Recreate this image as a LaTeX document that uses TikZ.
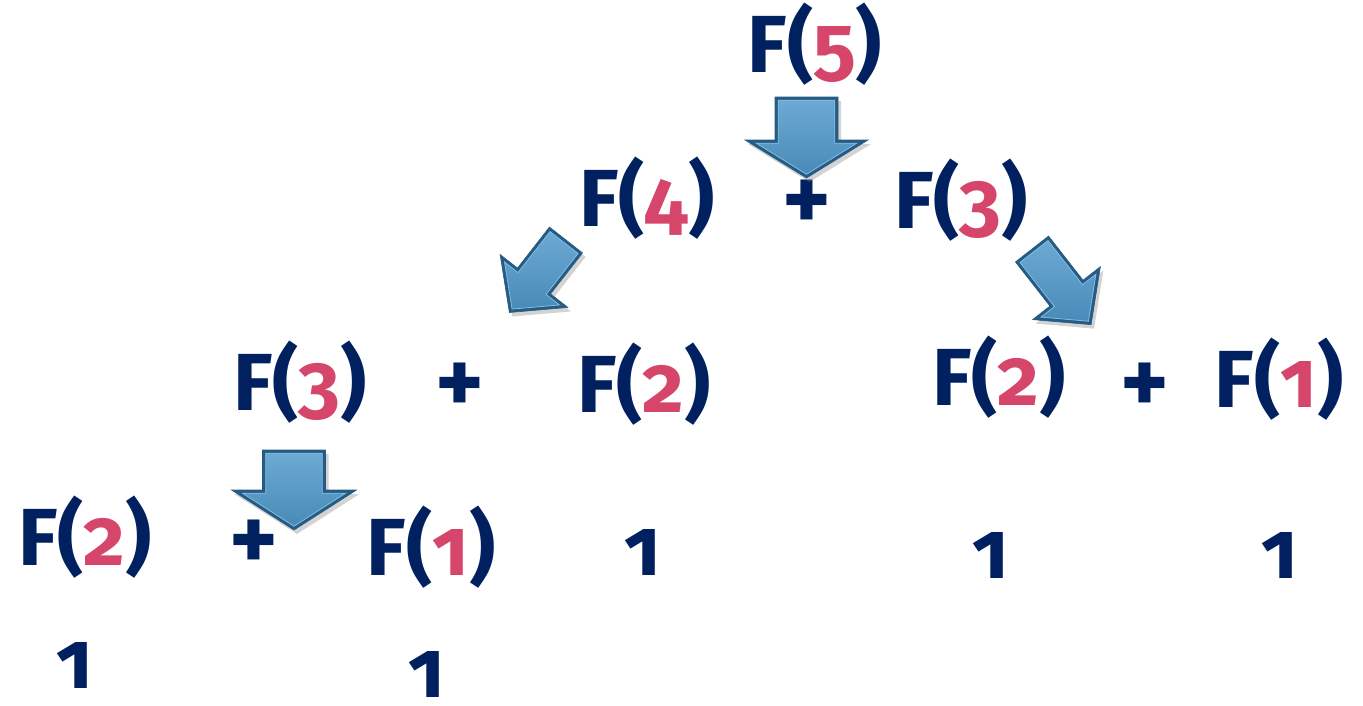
\documentclass[tikz,border=0pt]{standalone}
\usepackage{fontspec}
\setmainfont{Fira Sans}[Numbers=OldStyle]
\usetikzlibrary{shadows}
\definecolor{navy}{RGB}{0,32,96}
\definecolor{numred}{RGB}{213,70,106}
\definecolor{arrowlight}{RGB}{108,170,212}
\definecolor{arrowdark}{RGB}{72,138,184}
\definecolor{arrowedge}{RGB}{38,92,132}
\definecolor{arrowhi}{RGB}{150,200,230}
\tikzset{
  fnode/.style={inner sep=0pt, anchor=base, text=navy, font=\fontsize{81}{86}\selectfont\bfseries},
  plusnode/.style={inner sep=0pt, anchor=center, text=navy, font=\fontsize{92}{96}\selectfont\bfseries},
  arrowouter/.style={fill=arrowedge, draw=arrowedge, line width=0.6pt, line join=miter,
    drop shadow={opacity=0.35, shadow xshift=3pt, shadow yshift=-4pt}},
  arrowinner/.style={top color=arrowlight, bottom color=arrowdark, draw=arrowhi!60!arrowlight,
    line width=0.8pt, line join=miter},
}
\newcommand\Fn[1]{F(\textcolor{numred}{#1})}
% #1 tail centre, #2 rotation, #3 shaft half width, #4 head half width, #5 head length, #6 total length
\newcommand\blockarrow[6]{%
  \pgfmathsetmacro\arrD{3.2}%
  \pgfmathsetmacro\arrR{sqrt((#4)^2+(#5)^2)}%
  \pgfmathsetmacro\arrXs{#3-\arrD}%
  \pgfmathsetmacro\arrYs{#6-#5+\arrD}%
  \pgfmathsetmacro\arrXb{(#4*#5-\arrD*\arrR-#4*\arrD)/#5}%
  \pgfmathsetmacro\arrYp{#6-\arrD*\arrR/#4}%
  \begin{scope}[shift={(#1)}, rotate=#2]
    \path[arrowouter] (-#3,0) -- (#3,0) -- (#3,{#6-#5}) -- (#4,{#6-#5}) -- (0,#6)
      -- (-#4,{#6-#5}) -- (-#3,{#6-#5}) -- cycle;
    \path[arrowinner] (-\arrXs,\arrD) -- (\arrXs,\arrD) -- (\arrXs,\arrYs) -- (\arrXb,\arrYs)
      -- (0,\arrYp) -- (-\arrXb,\arrYs) -- (-\arrXs,\arrYs) -- cycle;
  \end{scope}}
\begin{document}
\begin{tikzpicture}[x=1pt, y=-1pt]
  \useasboundingbox (0,0) rectangle (1363,705);
  % row 1
  \node[fnode] (f5) at (815,72) {\Fn{5}};
  % row 2
  \node[fnode] (f4) at (647,226) {\Fn{4}};
  \node[plusnode] (p1) at (807,205) {+};
  \node[fnode] (f3a) at (961,228) {\Fn{3}};
  % row 3
  \node[fnode] (f3b) at (300,410) {\Fn{3}};
  \node[plusnode] (p2) at (460,388) {+};
  \node[fnode] (f2a) at (644,412) {\Fn{2}};
  \node[fnode] (f2b) at (999,405) {\Fn{2}};
  \node[plusnode] (p3) at (1145,388) {+};
  \node[fnode] (f1a) at (1279,407) {\Fn{1}};
  % row 4
  \node[fnode] (f2c) at (85,565) {\Fn{2}};
  \node[plusnode] (p4) at (254,545) {+};
  \node[fnode] (f1b) at (431,575) {\Fn{1}};
  \node[fnode] (o1) at (643,575) {1};
  \node[fnode] (o2) at (991,578) {1};
  \node[fnode] (o3) at (1280,578) {1};
  % row 5
  \node[fnode] (o4) at (75,688) {1};
  \node[fnode] (o5) at (427,697) {1};
  % block arrows
  \blockarrow{806.5,97}{0}{31.5}{61.5}{38}{81}
  \blockarrow{566,240}{-38}{21}{43}{40}{92}
  \blockarrow{1032,249}{38}{21}{43}{40}{96}
  \blockarrow{294,450}{0}{31.5}{62.5}{40}{80}
\end{tikzpicture}
\end{document}
